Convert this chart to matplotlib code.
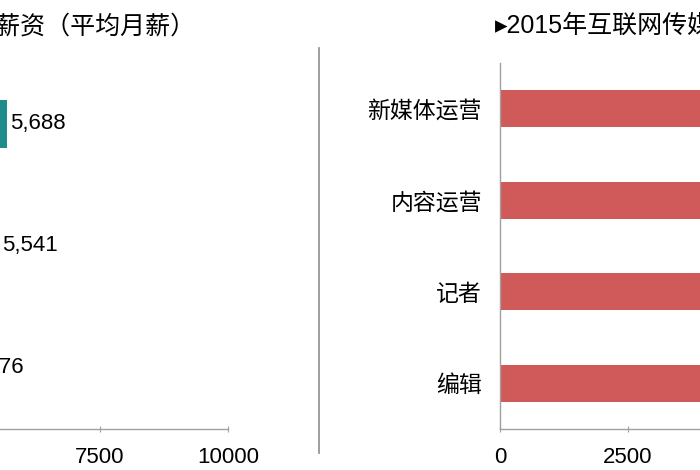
import matplotlib
matplotlib.use("Agg")
import matplotlib.pyplot as plt
from matplotlib.lines import Line2D

plt.rcParams["font.family"] = ["Liberation Sans", "Noto Sans CJK SC", "DejaVu Sans"]

# 2016 salaries (left panel, mostly cropped)
left_jobs = ["新媒体运营", "内容运营", "编辑"]
left_salary = [5688, 5541, 4876]
left_colors = ["#1e8b8c", "#c9dde6", "#9fc3d3"]

# 2015 salaries (right panel, bars run past the crop)
right_jobs = ["新媒体运营", "内容运营", "记者", "编辑"]
right_salary = [5200, 5000, 4800, 4700]
right_color = "#d05a5a"

xticks = [0, 2500, 5000, 7500, 10000]

W, H = 700, 470
fig = plt.figure(figsize=(7, 4.7), dpi=100)

axis_gray = "#a0a0a0"


def style(ax):
    for s in ["top", "right"]:
        ax.spines[s].set_visible(False)
    for s in ["left", "bottom"]:
        ax.spines[s].set_color(axis_gray)
        ax.spines[s].set_linewidth(1.0)
    ax.set_xlim(0, 10000)
    ax.set_xticks(xticks)
    ax.set_xticklabels([str(t) for t in xticks], fontsize=16)
    ax.tick_params(axis="x", direction="inout", length=4, color=axis_gray, pad=11)
    ax.tick_params(axis="y", length=0, pad=13, labelsize=16.5)


# left panel
axl = fig.add_axes([-284 / W, 41 / H, 512 / W, 366 / H])
bars = axl.barh(range(len(left_jobs)), left_salary, height=0.4, color=left_colors)
axl.set_yticks(range(len(left_jobs)))
axl.set_yticklabels(left_jobs)
axl.set_ylim(len(left_jobs) - 0.5, -0.5)
style(axl)
axl.bar_label(bars, labels=[f"{v:,}" for v in left_salary], padding=2, fontsize=16)

# right panel
axr = fig.add_axes([500 / W, 41 / H, 512 / W, 366 / H])
axr.barh(range(len(right_jobs)), right_salary, height=0.4, color=right_color)
axr.set_yticks(range(len(right_jobs)))
axr.set_yticklabels(right_jobs)
axr.set_ylim(len(right_jobs) - 0.5, -0.5)
style(axr)

# titles
fig.text(196 / W, 1 - 28 / H, "▸2016年互联网传媒岗位薪资（平均月薪）",
         ha="right", va="center", fontsize=18)
fig.text(495 / W, 1 - 27 / H, "▸2015年互联网传媒岗位薪资（平均月薪）",
         ha="left", va="center", fontsize=18)

# divider between panels
fig.add_artist(Line2D([319 / W, 319 / W], [1 - 48 / H, 1 - 453 / H],
                      transform=fig.transFigure, color="#8c8c8c", lw=1.2))

fig.savefig("out.png", dpi=100)
